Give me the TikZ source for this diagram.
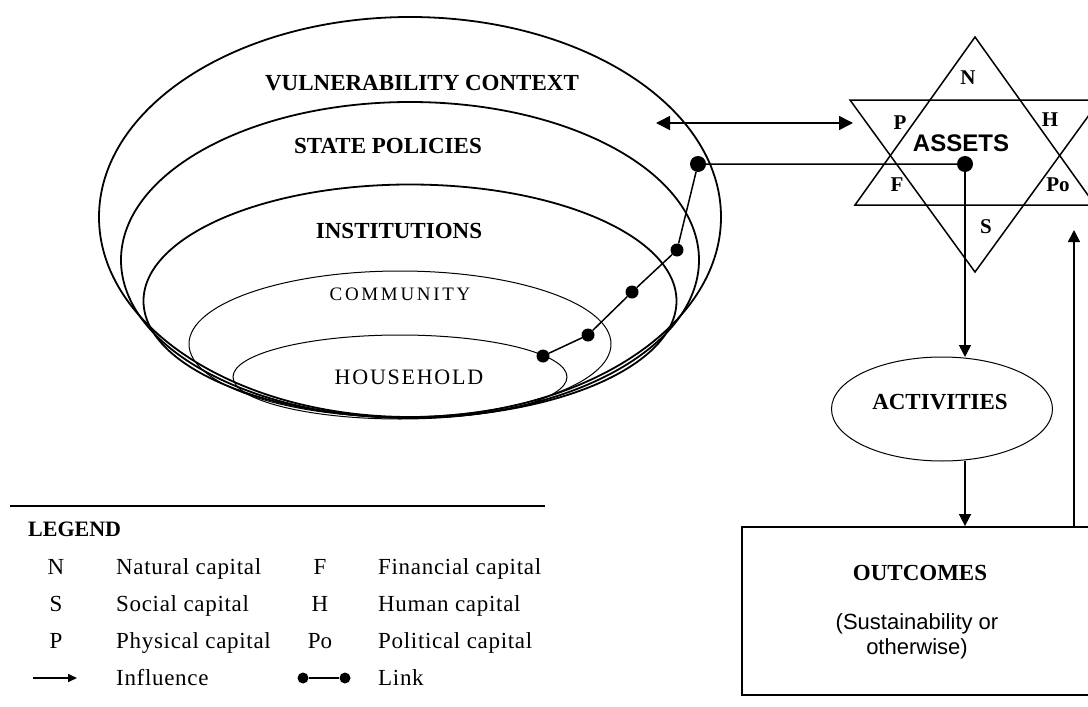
\documentclass[tikz,border=0pt]{standalone}
\usepackage{fontspec}
\setmainfont{Liberation Serif}
\newfontfamily\sansfont{Liberation Sans}
\usetikzlibrary{shapes.geometric, arrows.meta}
\tikzstyle{ring} = [ellipse, draw=black, line width=1.8pt, inner sep=0pt]
\tikzstyle{thinring} = [ellipse, draw=black, line width=1pt, inner sep=0pt]
\tikzstyle{layer} = [font=\fontsize{23}{26}\selectfont\bfseries, inner sep=0pt]
\tikzstyle{level} = [font=\fontsize{20}{24}\selectfont\addfontfeature{LetterSpace=14}, inner sep=0pt]
\tikzstyle{capital} = [font=\fontsize{21}{24}\selectfont\bfseries, inner sep=0pt]
\tikzstyle{influence} = [line width=1.6pt, -{Triangle[length=12pt,width=12pt]}]
\tikzstyle{mutual} = [line width=1.6pt, {Triangle[length=14pt,width=14pt]}-{Triangle[length=14pt,width=14pt]}]
\tikzstyle{link} = [line width=1.5pt]
\tikzstyle{linkdot} = [circle, fill=black, inner sep=0pt, minimum size=13pt]
\tikzstyle{legkey} = [font=\fontsize{23}{25}\selectfont, anchor=base, inner sep=0pt]
\tikzstyle{legtext} = [font=\fontsize{23}{25}\selectfont\addfontfeature{LetterSpace=3}, anchor=base west, inner sep=0pt]

\begin{document}
\begin{tikzpicture}[x=1pt,y=-1pt]
\useasboundingbox (0,0) rectangle (1088,707);
\clip (0,0) rectangle (1088,707);

% nested rings, all touching at the bottom
\node (vuln) [ring, minimum width=622, minimum height=400] at (410,217) {};
\node (state) [ring, minimum width=578, minimum height=316] at (410,260) {};
\node (inst) [ring, minimum width=533, minimum height=233] at (410,301) {};
\node (comm) [thinring, minimum width=422, minimum height=146] at (400,344) {};
\node (house) [thinring, minimum width=334, minimum height=84] at (400,377) {};

\node (vulntext) [layer] at (422,83) {VULNERABILITY CONTEXT};
\node (statetext) [layer] at (388,146) {STATE POLICIES};
\node (insttext) [layer] at (399,231) {INSTITUTIONS};
\node (commtext) [level, font=\fontsize{19}{22}\selectfont\addfontfeature{LetterSpace=14}] at (400,294) {COMMUNITY};
\node (housetext) [level, font=\fontsize{22}{24}\selectfont\addfontfeature{LetterSpace=8}] at (409,377) {HOUSEHOLD};

% link chain
\node (d1) [linkdot] at (543,356) {};
\node (d2) [linkdot] at (588,335) {};
\node (d3) [linkdot] at (632,292) {};
\node (d4) [linkdot] at (677,250) {};
\node (d5) [linkdot, minimum size=16pt] at (698,164) {};
\node (assetdot) [linkdot, minimum size=16pt] at (965,164) {};
\draw [link] (d1) -- (d2) -- (d3) -- (d4) -- (d5) -- (assetdot);

% assets star
\draw [line width=1.5pt] (975,37) -- (1095,205) -- (855,205) -- cycle;
\draw [line width=1.5pt] (850,100) -- (1100,100) -- (975,272) -- cycle;
\node (capN) [capital] at (968,78) {N};
\node (capP) [capital] at (900,123) {P};
\node (capH) [capital] at (1050,120) {H};
\node (capF) [capital] at (897,185) {F};
\node (capPo) [capital] at (1058,185) {Po};
\node (capS) [capital] at (986,227) {S};
\node (assets) [font=\sansfont\fontsize{24}{27}\selectfont\bfseries, inner sep=0pt] at (961,143) {ASSETS};

\coordinate (ctxin) at (656,123);
\coordinate (assetsin) at (853,123);
\draw [mutual] (ctxin) -- (assetsin);

% activities and outcomes
\node (act) [thinring, minimum width=221, minimum height=104] at (942,409) {};
\node (acttext) [layer] at (940,402) {ACTIVITIES};
\node (outcomes) [draw, line width=1.8pt, minimum width=360, minimum height=168] at (922,611) {};
\node (outtext) [layer] at (920,573) {OUTCOMES};
\node (outsub) [font=\sansfont\fontsize{22}{25}\selectfont, align=center, inner sep=0pt] at (917,636) {(Sustainability or\\otherwise)};

\coordinate (actin) at (965,357);
\coordinate (actout) at (965,461);
\coordinate (feedback) at (1074,230);
\draw [influence] (assetdot) -- (actin);
\draw [influence] (actout) -- (outcomes.north -| actout);
\draw [influence] (outcomes.north -| feedback) -- (feedback);

% legend
\coordinate (legl) at (10,506);
\coordinate (legr) at (545,506);
\draw [line width=1.8pt] (legl) -- (legr);
\node (legend) [font=\fontsize{22}{24}\selectfont\bfseries, anchor=base west, inner sep=0pt] at (28,536) {LEGEND};

\node (keyN) [legkey] at (56,574) {N};
\node (keyS) [legkey] at (56,611) {S};
\node (keyP) [legkey] at (56,648) {P};
\node (keyF) [legkey] at (320,574) {F};
\node (keyH) [legkey] at (320,611) {H};
\node (keyPo) [legkey] at (320,648) {Po};
\node (txtN) [legtext] at (116,574) {Natural capital};
\node (txtS) [legtext] at (116,611) {Social capital};
\node (txtP) [legtext] at (116,648) {Physical capital};
\node (txtF) [legtext] at (378,574) {Financial capital};
\node (txtH) [legtext] at (378,611) {Human capital};
\node (txtPo) [legtext] at (378,648) {Political capital};

\coordinate (inflA) at (33,678);
\coordinate (inflB) at (77,678);
\draw [line width=1.6pt, -{Triangle[length=9pt,width=8pt]}] (inflA) -- (inflB);
\node (txtInfl) [legtext] at (116,685) {Influence};
\node (linkA) [linkdot, minimum size=11pt] at (303,678) {};
\node (linkB) [linkdot, minimum size=11pt] at (345,678) {};
\draw [link, line width=1.8pt] (linkA) -- (linkB);
\node (txtLink) [legtext] at (378,685) {Link};

\end{tikzpicture}
\end{document}
